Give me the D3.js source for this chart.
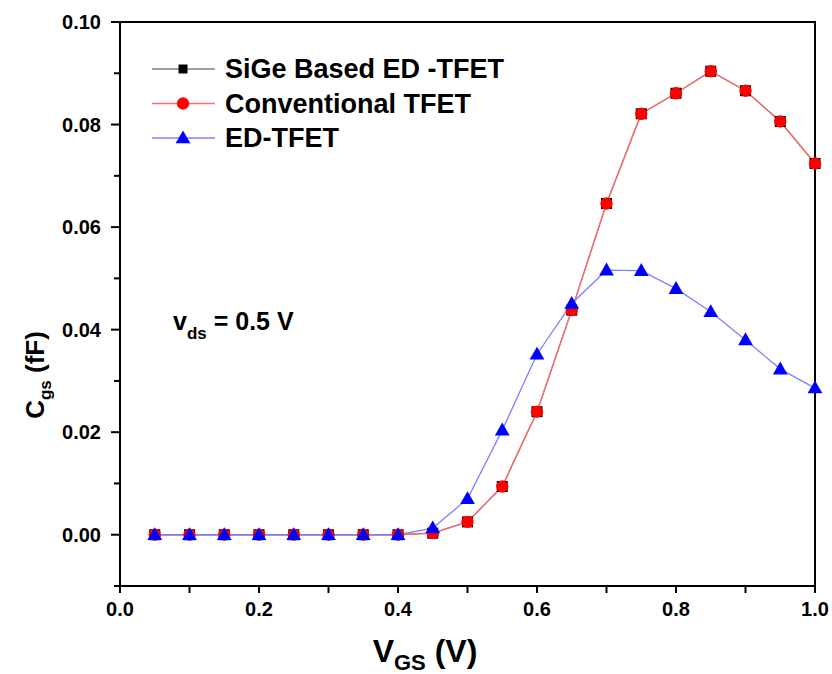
<!DOCTYPE html>
<html><head><meta charset="utf-8">
<script src="https://cdn.jsdelivr.net/npm/d3@7"></script>
<style>body{margin:0;background:#fff}svg{display:block}text{font-family:"Liberation Sans",Arial,sans-serif;font-weight:bold;fill:#000}</style>
</head><body>
<svg id="c" width="832" height="674"></svg>
<script>
const vgs = [0.05,0.10,0.15,0.20,0.25,0.30,0.35,0.40,0.45,0.50,0.55,0.60,0.65,0.70,0.75,0.80,0.85,0.90,0.95,1.00];
const sigeED = [0,0,0,0,0,0,0,0,0.0003,0.0025,0.0094,0.0240,0.0438,0.0646,0.0821,0.0861,0.0904,0.0866,0.0806,0.0724];
const convTFET = [0,0,0,0,0,0,0,0,0.0003,0.0025,0.0094,0.0240,0.0438,0.0646,0.0821,0.0861,0.0904,0.0866,0.0806,0.0724];
const edTFET = [0,0,0,0,0,0,0,0,0.0013,0.0070,0.0204,0.0352,0.0451,0.0516,0.0515,0.0480,0.0435,0.0380,0.0323,0.0286];
const xTicks = [0.0,0.2,0.4,0.6,0.8,1.0];
const yTicks = [0.00,0.02,0.04,0.06,0.08,0.10];
const seriesNames = ["SiGe Based ED -TFET","Conventional TFET","ED-TFET"];

const svg = d3.select("#c");
const L=120,R=815,T=22,B=586;
const x = d3.scaleLinear().domain([0,1]).range([L,R]);
const y = d3.scaleLinear().domain([-0.01,0.10]).range([B,T]);

// frame
svg.append("rect").attr("x",L).attr("y",T).attr("width",R-L).attr("height",B-T)
  .attr("fill","none").attr("stroke","#000").attr("stroke-width",2);

// x axis ticks
const xMinor = d3.range(0,11).map(i=>i/10);
svg.append("g").selectAll("line").data(xMinor).join("line")
  .attr("x1",d=>x(d)).attr("x2",d=>x(d)).attr("y1",B).attr("y2",B+7)
  .attr("stroke","#000").attr("stroke-width",2);
svg.append("g").selectAll("text").data(xTicks).join("text")
  .attr("x",d=>x(d)).attr("y",B+30).attr("text-anchor","middle")
  .attr("font-size",20).text(d=>d3.format(".1f")(d));

// y axis ticks
const yMinor = d3.range(-1,11).map(i=>i/100);
svg.append("g").selectAll("line").data(yMinor).join("line")
  .attr("x1",L).attr("x2",d=> Math.abs(Math.round(d*100))%2===0 ? L-9 : L-6)
  .attr("y1",d=>y(d)).attr("y2",d=>y(d))
  .attr("stroke","#000").attr("stroke-width",2);
svg.append("g").selectAll("text").data(yTicks).join("text")
  .attr("x",L-19).attr("y",d=>y(d)+7).attr("text-anchor","end")
  .attr("font-size",20).text(d=>d3.format(".2f")(d));

// axis titles
const xt = svg.append("text").attr("x",425).attr("y",662).attr("text-anchor","middle").attr("font-size",32);
xt.append("tspan").text("V");
xt.append("tspan").attr("font-size",22).attr("dy",8).text("GS");
xt.append("tspan").attr("dy",-8).text(" (V)");

const yt = svg.append("text").attr("transform","translate(44,375) rotate(-90)").attr("text-anchor","middle").attr("font-size",26);
yt.append("tspan").text("C");
yt.append("tspan").attr("font-size",17).attr("dy",7).text("gs");
yt.append("tspan").attr("dy",-7).text(" (fF)");

// annotation
const an = svg.append("text").attr("x",173).attr("y",330).attr("font-size",25);
an.append("tspan").text("v");
an.append("tspan").attr("font-size",17).attr("dy",9).text("ds");
an.append("tspan").attr("dy",-9).text(" = 0.5 V");

const line = d3.line().x((d,i)=>x(vgs[i])).y(d=>y(d));
const sq = d3.symbol().type(d3.symbolSquare).size(121);
const ci = d3.symbol().type(d3.symbolCircle).size(120);
const tr = d3.symbol().type(d3.symbolTriangle).size(95);

const series = [
  {v:sigeED, line:"#7f7f7f", fill:"#000", sym:sq},
  {v:convTFET, line:"#ff6a6a", fill:"#ff0000", sym:ci},
  {v:edTFET, line:"#8080ff", fill:"#0000ff", sym:tr}
];
const plot = svg.append("g");
series.forEach(s=>{
  plot.append("path").attr("d",line(s.v)).attr("fill","none").attr("stroke",s.line).attr("stroke-width",1.3);
});
series.forEach(s=>{
  plot.append("g").selectAll("path").data(s.v).join("path")
    .attr("transform",(d,i)=>`translate(${x(vgs[i])},${y(d)+(s.sym===tr?1:0)})`)
    .attr("d",s.sym()).attr("fill",s.fill);
});

// legend
const lg = svg.append("g");
seriesNames.forEach((n,i)=>{
  const yy = 69 + i*34.5;
  const s = series[i];
  lg.append("line").attr("x1",152).attr("x2",215).attr("y1",yy).attr("y2",yy).attr("stroke",s.line).attr("stroke-width",1.3);
  lg.append("path").attr("transform",`translate(183,${yy+(s.sym===tr?1:0)})`).attr("d",s.sym===sq?d3.symbol().type(d3.symbolSquare).size(81)():s.sym()).attr("fill",s.fill);
  lg.append("text").attr("x",225).attr("y",yy+9).attr("font-size",27).text(n);
});
</script>
</body></html>
